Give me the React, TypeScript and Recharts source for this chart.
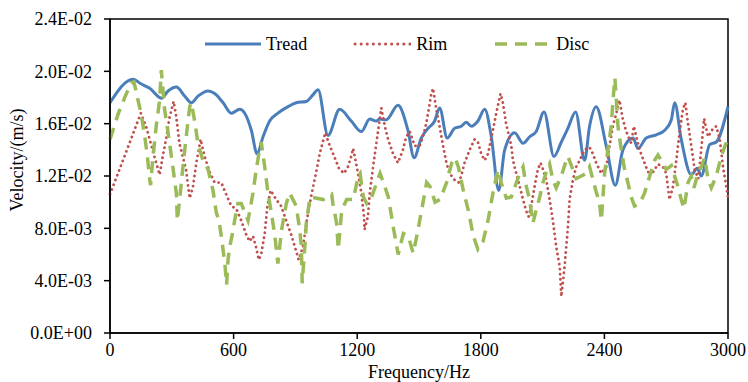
import React from 'react';
import { LineChart, Line, XAxis, YAxis, ReferenceArea, Label } from 'recharts';

// frequency (Hz) and velocity (x1e-3 m/s)
const treadFreq = [0, 112, 150, 193, 249, 282, 322, 363, 395, 427, 476, 508, 549, 589, 630, 654, 686, 714, 743, 775, 815, 864, 904, 953, 985, 1010, 1058, 1115, 1171, 1220, 1261, 1293, 1309, 1341, 1398, 1446, 1476, 1511, 1544, 1576, 1600, 1637, 1673, 1705, 1729, 1754, 1786, 1819, 1851, 1887, 1916, 1964, 2005, 2037, 2069, 2107, 2155, 2191, 2223, 2260, 2304, 2328, 2360, 2409, 2453, 2490, 2539, 2563, 2603, 2652, 2693, 2725, 2741, 2773, 2822, 2851, 2870, 2911, 2943, 3000];
const treadVel = [17.6, 19.4, 19.05, 18.7, 17.95, 18.5, 18.8, 18.1, 17.6, 18.1, 18.5, 18.3, 17.6, 16.8, 17.1, 16.8, 15.5, 13.7, 15.0, 16.2, 16.8, 17.3, 17.6, 17.7, 18.2, 18.6, 15.1, 17.1, 16.2, 15.4, 16.35, 16.2, 16.35, 16.3, 17.4, 15.5, 13.4, 14.9, 15.65, 16.2, 17.2, 14.9, 15.65, 15.8, 16.1, 15.8, 16.2, 17.1, 15.0, 10.9, 14.0, 15.3, 14.5, 15.0, 15.4, 16.9, 13.5, 14.6, 15.65, 16.9, 13.2, 15.8, 17.3, 14.3, 11.3, 14.0, 14.9, 14.1, 14.9, 15.15, 15.5, 16.3, 17.6, 14.8, 12.1, 12.6, 12.0, 14.4, 14.6, 17.3];

const rimFreq = [0, 150, 175, 217, 241, 256, 272, 288, 309, 321, 337, 369, 387, 403, 419, 440, 459, 484, 508, 540, 564, 589, 613, 637, 662, 678, 694, 710, 722, 735, 751, 764, 780, 807, 831, 855, 880, 899, 916, 937, 953, 977, 1001, 1018, 1045, 1067, 1091, 1111, 1136, 1155, 1171, 1180, 1188, 1204, 1220, 1233, 1236, 1252, 1261, 1277, 1293, 1309, 1317, 1334, 1350, 1374, 1398, 1422, 1438, 1455, 1479, 1503, 1519, 1535, 1547, 1560, 1568, 1584, 1600, 1617, 1633, 1649, 1673, 1692, 1705, 1721, 1746, 1770, 1786, 1802, 1819, 1835, 1859, 1875, 1896, 1907, 1923, 1948, 1956, 1972, 1989, 2005, 2021, 2032, 2045, 2061, 2077, 2090, 2102, 2118, 2134, 2150, 2166, 2183, 2191, 2207, 2223, 2231, 2247, 2263, 2280, 2304, 2328, 2344, 2360, 2385, 2409, 2425, 2441, 2458, 2473, 2490, 2506, 2530, 2543, 2555, 2571, 2595, 2612, 2636, 2660, 2684, 2700, 2716, 2733, 2749, 2765, 2781, 2793, 2806, 2822, 2838, 2856, 2870, 2884, 2903, 2928, 2943, 2960, 2976, 3000];
const rimVel = [10.6, 16.8, 15.8, 13.4, 12.1, 13.5, 14.8, 16.4, 17.7, 16.6, 14.5, 12.5, 10.3, 11.2, 13.0, 14.8, 13.5, 12.3, 11.5, 11.5, 10.6, 9.7, 9.5, 8.6, 7.5, 7.0, 7.4, 6.5, 5.6, 6.1, 7.6, 9.7, 10.9, 10.2, 9.7, 8.6, 7.5, 6.5, 5.6, 6.6, 8.4, 10.5, 12.3, 13.7, 15.3, 14.3, 13.4, 12.6, 12.2, 12.7, 13.5, 14.1, 13.5, 12.2, 10.7, 8.9, 7.9, 8.9, 10.7, 12.7, 14.5, 16.3, 17.2, 15.8, 14.8, 13.7, 13.0, 14.0, 15.0, 15.4, 14.3, 14.3, 15.0, 16.0, 17.1, 18.3, 18.7, 17.1, 15.8, 14.3, 13.0, 12.2, 11.7, 11.5, 12.0, 13.0, 14.0, 14.8, 14.6, 13.7, 13.2, 13.7, 15.5, 16.8, 18.3, 17.6, 16.0, 14.3, 13.2, 12.2, 11.2, 10.2, 9.3, 8.9, 9.7, 11.2, 12.5, 13.0, 12.5, 11.7, 10.2, 8.6, 6.6, 5.1, 2.8, 5.1, 8.1, 10.2, 11.7, 12.7, 13.2, 14.0, 14.2, 13.7, 13.0, 12.2, 12.7, 14.3, 15.8, 16.8, 17.8, 16.3, 15.4, 14.5, 15.8, 15.0, 14.0, 13.0, 12.3, 12.3, 12.9, 12.7, 12.2, 10.2, 11.2, 13.2, 15.3, 17.1, 17.6, 16.0, 14.3, 12.5, 11.8, 14.0, 16.4, 15.0, 15.65, 15.8, 14.8, 12.7, 10.4];

const discFreq = [0, 41, 74, 103, 116, 136, 152, 168, 181, 192, 197, 209, 225, 241, 249, 265, 282, 298, 311, 322, 327, 338, 354, 370, 387, 395, 411, 427, 451, 476, 500, 516, 529, 544, 558, 566, 573, 581, 592, 605, 621, 637, 670, 694, 710, 727, 734, 751, 767, 783, 799, 815, 833, 856, 872, 904, 921, 929, 933, 945, 953, 971, 1035, 1076, 1082, 1100, 1108, 1125, 1149, 1181, 1205, 1214, 1230, 1246, 1270, 1311, 1327, 1351, 1375, 1399, 1424, 1448, 1472, 1489, 1513, 1537, 1553, 1578, 1602, 1634, 1659, 1675, 1691, 1715, 1739, 1764, 1786, 1811, 1835, 1859, 1883, 1899, 1924, 1948, 1964, 1989, 2005, 2021, 2037, 2053, 2069, 2086, 2102, 2118, 2134, 2150, 2166, 2191, 2215, 2223, 2247, 2263, 2288, 2312, 2328, 2360, 2377, 2385, 2401, 2417, 2433, 2441, 2451, 2466, 2482, 2498, 2514, 2530, 2546, 2571, 2595, 2620, 2644, 2660, 2676, 2700, 2725, 2757, 2773, 2786, 2806, 2822, 2835, 2854, 2870, 2886, 2903, 2919, 2943, 2967, 3000];
const discVel = [14.8, 16.8, 18.1, 19.1, 19.2, 17.8, 16.7, 15.1, 13.6, 11.8, 11.3, 13.5, 15.9, 17.8, 20.1, 17.1, 15.3, 13.5, 12.0, 10.7, 8.6, 10.2, 12.7, 15.0, 17.3, 17.6, 16.2, 14.5, 13.2, 12.5, 10.9, 9.2, 8.6, 7.0, 5.2, 3.7, 5.6, 6.6, 7.4, 8.6, 9.9, 9.9, 8.6, 10.7, 12.5, 14.1, 14.6, 12.7, 10.7, 9.2, 7.6, 5.3, 7.9, 9.9, 10.7, 9.7, 7.9, 6.6, 3.8, 6.4, 8.4, 10.4, 10.2, 10.6, 9.9, 8.4, 6.4, 9.4, 10.2, 10.2, 12.0, 12.2, 10.4, 9.9, 10.4, 12.2, 11.5, 10.4, 8.1, 6.0, 7.6, 7.4, 6.1, 7.4, 9.4, 11.5, 11.2, 10.0, 10.2, 11.5, 13.0, 13.4, 12.7, 10.9, 9.4, 7.4, 6.4, 7.0, 8.6, 10.7, 12.5, 11.5, 10.3, 10.4, 11.1, 12.2, 12.7, 11.2, 10.2, 8.4, 9.4, 10.4, 11.5, 12.3, 12.9, 11.7, 11.1, 12.0, 13.2, 13.5, 12.5, 11.8, 12.0, 12.2, 12.7, 10.8, 9.9, 8.6, 12.2, 14.0, 15.8, 17.6, 19.5, 15.8, 14.0, 12.5, 11.5, 10.4, 9.7, 9.9, 10.7, 12.0, 13.2, 13.6, 13.2, 12.5, 12.8, 11.2, 10.2, 9.5, 11.5, 12.0, 11.1, 12.2, 12.7, 13.4, 11.8, 11.1, 12.0, 13.5, 14.9];

const xTicks = [0, 600, 1200, 1800, 2400, 3000];
const yTicks = [0, 0.004, 0.008, 0.012, 0.016, 0.02, 0.024];

const toPoints = (freq: number[], vel: number[]) =>
  freq.map((f, i) => ({ f, v: vel[i] * 1e-3 }));

const treadData = toPoints(treadFreq, treadVel);
const rimData = toPoints(rimFreq, rimVel);
const discData = toPoints(discFreq, discVel);

const FONT = "'Liberation Serif', 'Times New Roman', serif";
const BLUE = '#4a7ebb';
const RED = '#c0504d';
const GREEN = '#9bbb59';

const fmtSci = (v: number) => {
  const [m, e] = v.toExponential(1).split('e');
  const n = Math.abs(parseInt(e, 10));
  return `${m}E${e[0] === '-' ? '-' : '+'}${n < 10 ? '0' : ''}${n}`;
};

const legendItems = [
  { name: 'Tread', color: BLUE, dash: undefined, width: 3, cap: 'butt' },
  { name: 'Rim', color: RED, dash: '0.1 6', width: 3, cap: 'round' },
  { name: 'Disc', color: GREEN, dash: '12 8', width: 3.5, cap: 'butt' },
];

// legend sits inside the plot frame, so it is laid over the chart
const LegendBox = () => (
  <div style={{
    position: 'absolute', top: 35, left: 203, display: 'flex', alignItems: 'center', gap: 46,
    fontFamily: FONT, fontSize: 18, color: '#000', lineHeight: '18px',
  }}>
    {legendItems.map(it => (
      <div key={it.name} style={{ display: 'flex', alignItems: 'center' }}>
        <svg width={58} height={10}>
          <line x1={2} y1={5} x2={58} y2={5} stroke={it.color} strokeWidth={it.width}
            strokeDasharray={it.dash} strokeLinecap={it.cap as any} />
        </svg>
        <span style={{ marginLeft: 5 }}>{it.name}</span>
      </div>
    ))}
  </div>
);

export default function App() {
  return (
    <div style={{ position: 'absolute', left: 0, top: 0, width: 748, height: 382, background: '#fff' }}>
      <LineChart width={748} height={382} margin={{ top: 19, right: 20, bottom: 0, left: 0 }}>
        <XAxis
          dataKey="f"
          type="number"
          domain={[0, 3000]}
          ticks={xTicks}
          allowDuplicatedCategory={false}
          height={49}
          axisLine={{ stroke: '#000', strokeWidth: 1.5 }}
          tickLine={{ stroke: '#000', strokeWidth: 1.5 }}
          tickSize={6}
          tickMargin={4}
          tick={{ fill: '#000', fontSize: 18, fontFamily: FONT }}
        >
          <Label content={() => (
            <text x={419} y={378} textAnchor="middle" fontFamily={FONT} fontSize={18} fill="#000">Frequency/Hz</text>
          )} />
        </XAxis>
        <YAxis
          type="number"
          domain={[0, 0.024]}
          ticks={yTicks}
          width={110}
          tickFormatter={fmtSci}
          axisLine={{ stroke: '#000', strokeWidth: 1.5 }}
          tickLine={{ stroke: '#000', strokeWidth: 1.5 }}
          tickSize={6}
          tickMargin={12}
          tick={{ fill: '#000', fontSize: 18, fontFamily: FONT }}
        >
          <Label content={() => (
            <text x={17} y={160} transform="rotate(-90 17 160)" textAnchor="middle" dominantBaseline="central"
              fontFamily={FONT} fontSize={18} fill="#000">Velocity/(m/s)</text>
          )} />
        </YAxis>
        <ReferenceArea x1={0} x2={3000} y1={0} y2={0.024} fill="none" stroke="#000" strokeWidth={1.5} ifOverflow="visible" />
        <Line data={treadData} dataKey="v" name="Tread" type="monotone" stroke={BLUE} strokeWidth={3}
          dot={false} isAnimationActive={false} />
        <Line data={rimData} dataKey="v" name="Rim" type="linear" stroke={RED} strokeWidth={2.8}
          strokeDasharray="0.1 5" strokeLinecap="round" dot={false} isAnimationActive={false} />
        <Line data={discData} dataKey="v" name="Disc" type="linear" stroke={GREEN} strokeWidth={3.5}
          strokeDasharray="12 8" dot={false} isAnimationActive={false} />
      </LineChart>
      <LegendBox />
    </div>
  );
}
